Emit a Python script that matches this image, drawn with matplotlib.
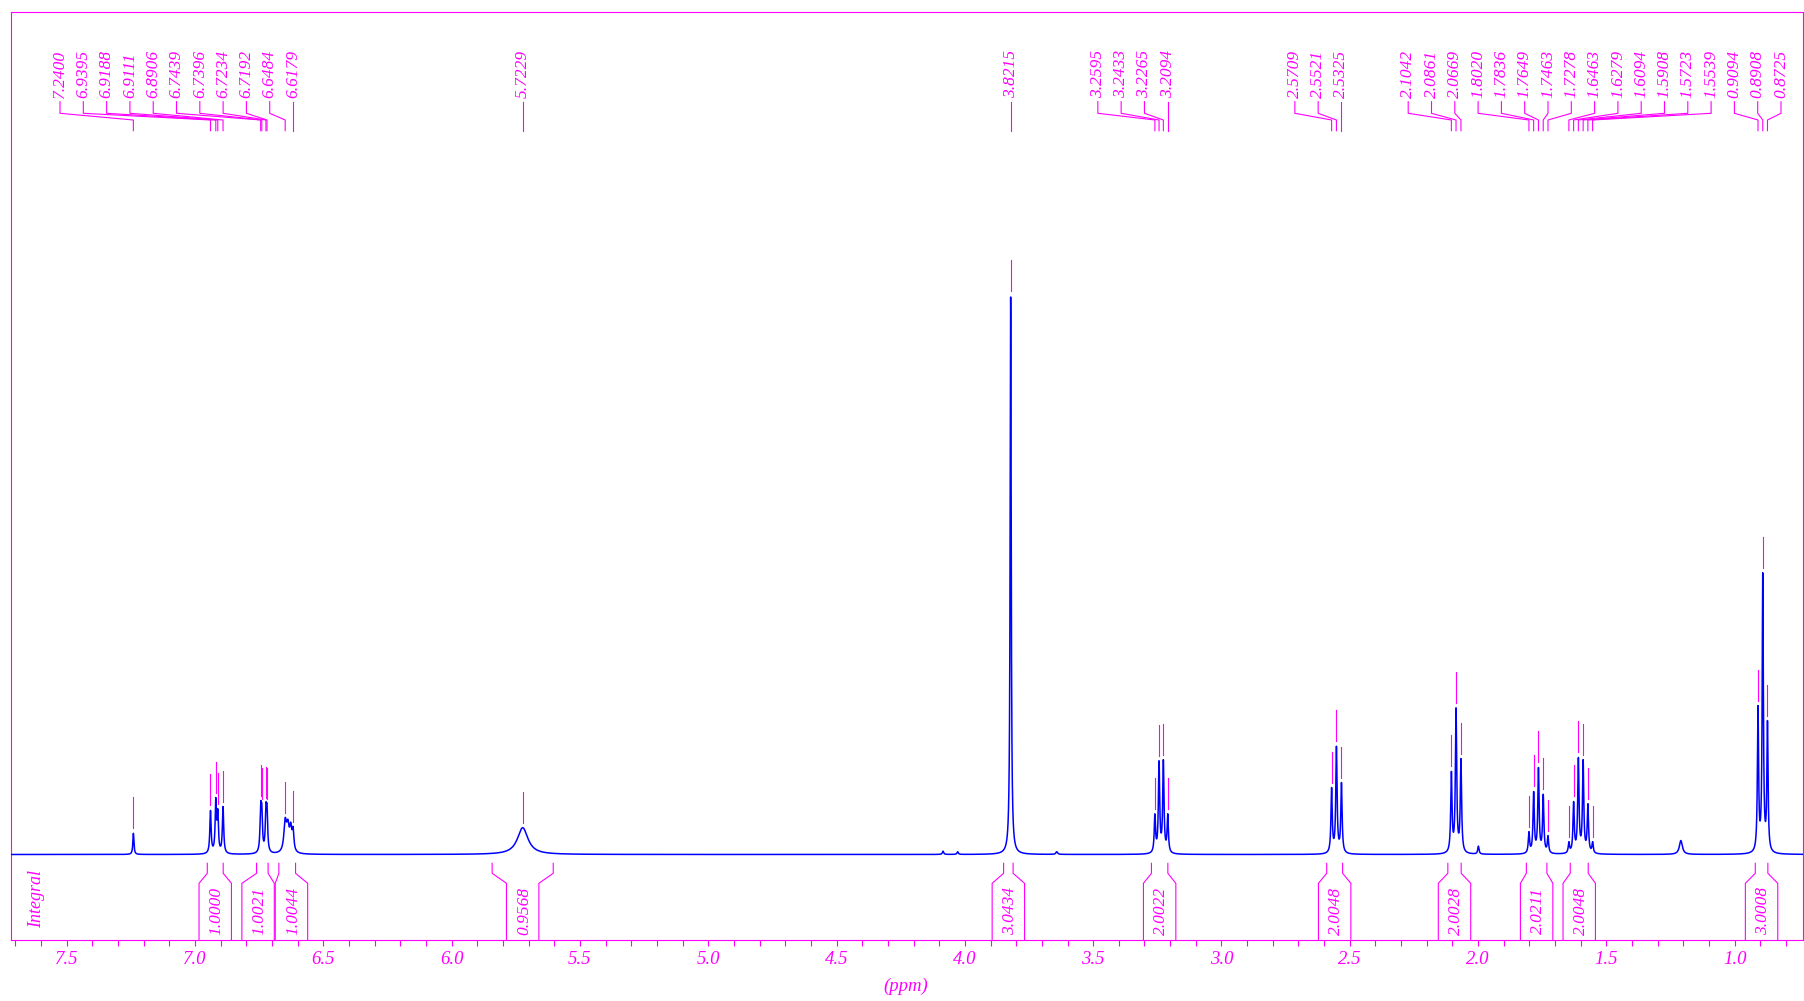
import numpy as np
import matplotlib
matplotlib.use("Agg")
import matplotlib.pyplot as plt

MAGENTA = "#FF00FF"
BLUE = "#0000FF"
SERIF = dict(family=["Liberation Serif", "DejaVu Serif"], style="italic")

# ---- peak list: chemical shift (ppm), apex height (relative, 3.8215 = 100), line width (ppm)
peak_ppm = [7.2400, 6.9395, 6.9188, 6.9111, 6.8906, 6.7439, 6.7396, 6.7234, 6.7192,
            6.6484, 6.6179, 5.7229, 3.8215, 3.2595, 3.2433, 3.2265, 3.2094,
            2.5709, 2.5521, 2.5325, 2.1042, 2.0861, 2.0669,
            1.8020, 1.7836, 1.7649, 1.7463, 1.7278,
            1.6463, 1.6279, 1.6094, 1.5908, 1.5723, 1.5539,
            0.9094, 0.8908, 0.8725]
peak_height = [3.8, 7.9, 10.2, 8.2, 8.6, 9.5, 9.1, 9.3, 9.0,
               6.6, 5.0, 4.8, 100.0, 7.3, 16.8, 17.0, 7.3,
               12.0, 19.4, 12.9, 14.9, 26.3, 17.2,
               4.1, 11.3, 15.6, 10.8, 3.4,
               2.3, 9.5, 17.4, 17.0, 9.1, 2.3,
               26.7, 50.5, 24.0]
peak_fwhm = [0.005, 0.006, 0.006, 0.006, 0.006, 0.006, 0.006, 0.006, 0.006,
             0.012, 0.008, 0.050, 0.005, 0.006, 0.006, 0.006, 0.006,
             0.006, 0.006, 0.006, 0.006, 0.006, 0.006,
             0.006, 0.006, 0.006, 0.006, 0.006,
             0.006, 0.006, 0.006, 0.006, 0.006, 0.006,
             0.0055, 0.0055, 0.0055]

# unlabelled minor signals
minor_ppm = [6.6380, 6.6270, 4.0850, 4.0280, 3.6420, 1.9990, 1.2100]
minor_height = [6.3, 5.8, 0.6, 0.5, 0.5, 1.5, 2.5]
minor_fwhm = [0.012, 0.010, 0.006, 0.006, 0.008, 0.006, 0.014]

# ---- integrals
integral_text = ["1.0000", "1.0021", "1.0044", "0.9568", "3.0434", "2.0022",
                 "2.0048", "2.0028", "2.0211", "2.0048", "3.0008"]
integral_from = [6.952, 6.760, 6.673, 5.842, 3.849, 3.273, 2.590, 2.118, 1.812, 1.641, 0.920]
integral_to = [6.890, 6.715, 6.608, 5.604, 3.812, 3.209, 2.528, 2.066, 1.732, 1.571, 0.871]

# ---- axis
x_major = [7.5, 7.0, 6.5, 6.0, 5.5, 5.0, 4.5, 4.0, 3.5, 3.0, 2.5, 2.0, 1.5, 1.0]
x_minor = [round(7.7 - 0.1 * i, 1) for i in range(70)]
XLIM = (7.718, 0.736)

# ---------------------------------------------------------------------------
W_PX, H_PX = 1804, 1001
AX_L, AX_R, AX_T, AX_B = 10.7, 1802.5, 12.0, 940.0
BASE = 854.5                    # baseline row (pixels from top)
K = 5.58                        # pixels per intensity unit
PPM_PX = (AX_R - AX_L) / (XLIM[0] - XLIM[1])

fig = plt.figure(figsize=(W_PX / 100, H_PX / 100), dpi=100)
ax = fig.add_axes([AX_L / W_PX, 1 - AX_B / H_PX, (AX_R - AX_L) / W_PX, (AX_B - AX_T) / H_PX])
ax.set_xlim(*XLIM)
ax.set_ylim((BASE - AX_B) / K, (BASE - AX_T) / K)


def px2ppm(x):
    return XLIM[0] - (x - AX_L) / PPM_PX


def ppm2px(p):
    return AX_L + (XLIM[0] - p) * PPM_PX


def ydat(y):
    return (BASE - y) / K


# ---- spectrum as a sum of Lorentzian lines, amplitudes fitted to apex heights
centers = np.array(peak_ppm + minor_ppm)
targets = np.array(peak_height + minor_height)
widths = np.array(peak_fwhm + minor_fwhm)


def lorentz(x, c, w):
    return 1.0 / (1.0 + ((x - c) / (w / 2.0)) ** 2)


M = lorentz(centers[:, None], centers[None, :], widths[None, :])
amp = targets.copy()
for _ in range(400):
    amp *= targets / (M @ amp)

ppm = np.linspace(XLIM[0], XLIM[1], 40000)
spec = lorentz(ppm[:, None], centers[None, :], widths[None, :]) @ amp
ax.plot(ppm, spec, color=BLUE, lw=1.1, zorder=3)

LW = 0.8
# ---- peak markers above each apex
apex = (M @ amp)[:len(peak_ppm)]
for p, h in zip(peak_ppm, apex):
    ax.plot([p, p], [h + 5 / K, h + 36 / K], color=MAGENTA, lw=LW, zorder=4)

# ---- peak labels with leader lines
label_groups = [11, 1, 1, 4, 3, 17]
SPACING = 23.3
RIGHT_LIMIT = 1781.0
pk_px = [ppm2px(p) for p in peak_ppm]
lab_px = []
start = 0
for gi, n in enumerate(label_groups):
    last = pk_px[start + n - 1] if gi < len(label_groups) - 1 else RIGHT_LIMIT
    lab_px += [last - (n - 1 - k) * SPACING for k in range(n)]
    start += n

for p, lx, px in zip(peak_ppm, lab_px, pk_px):
    ax.text(px2ppm(lx), ydat(98), f"{p:.4f}", rotation=90, ha="center", va="bottom",
            color=MAGENTA, fontsize=12.5, zorder=5, **SERIF)
    xs = [px2ppm(lx), px2ppm(lx), px2ppm(px), px2ppm(px)]
    ys = [ydat(101.7), ydat(113.3), ydat(120.0), ydat(130.7)]
    ax.plot(xs, ys, color=MAGENTA, lw=LW, zorder=4)

# ---- integral brackets
BOX = 32.4
cen = [(ppm2px(a) + ppm2px(b)) / 2 for a, b in zip(integral_from, integral_to)]
for i in range(len(cen) - 1):
    gap = cen[i + 1] - cen[i]
    if gap < BOX + 1:
        d = (BOX + 1 - gap) / 2
        cen[i] -= d
        cen[i + 1] += d

for a, b, c, t in zip(integral_from, integral_to, cen, integral_text):
    for top_x, box_x in ((ppm2px(a), c - BOX / 2), (ppm2px(b), c + BOX / 2)):
        xs = [px2ppm(top_x), px2ppm(top_x), px2ppm(box_x), px2ppm(box_x)]
        ys = [ydat(863.3), ydat(873.3), ydat(883.3), ydat(AX_B)]
        ax.plot(xs, ys, color=MAGENTA, lw=LW, zorder=4, clip_on=False)
    ax.text(px2ppm(c + 1.5), ydat(911), t, rotation=90, ha="center", va="center",
            color=MAGENTA, fontsize=12.5, zorder=5, **SERIF)

ax.text(px2ppm(37), ydat(898.5), "Integral", rotation=90, ha="center", va="center",
        color=MAGENTA, fontsize=13, **SERIF)

# ---- frame and ticks
for s in ax.spines.values():
    s.set_color(MAGENTA)
    s.set_linewidth(LW)
ax.set_yticks([])
ax.set_xticks(x_major)
ax.set_xticklabels([f"{v:.1f}" for v in x_major], color=MAGENTA, fontsize=13.5, **SERIF)
ax.set_xticks(x_minor, minor=True)
ax.tick_params(axis="x", which="both", direction="out", length=4.5, width=LW,
               color=MAGENTA, pad=3.5)
fig.text(906 / W_PX, 1 - 986 / H_PX, "(ppm)", ha="center", va="center",
         color=MAGENTA, fontsize=13.5, **SERIF)

fig.savefig("out.png", dpi=100, facecolor="white")
